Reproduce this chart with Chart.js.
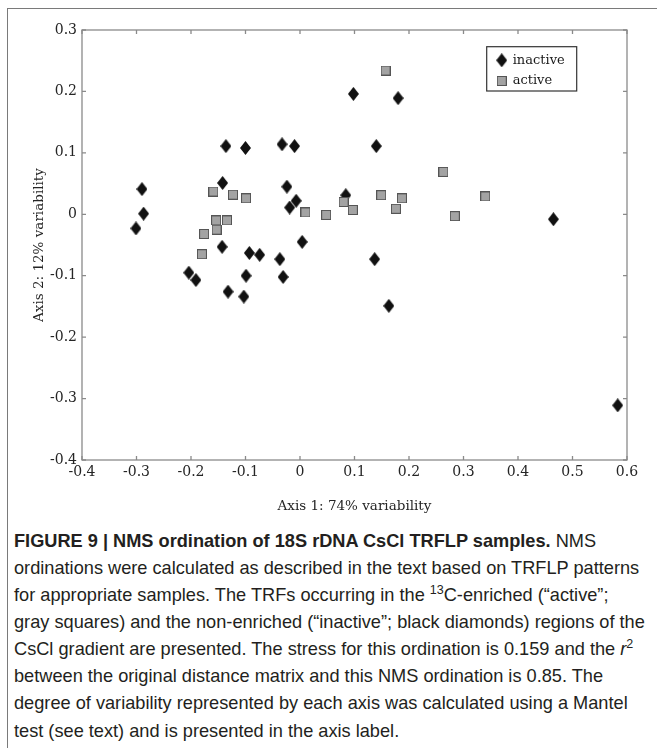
<!DOCTYPE html>
<html><head><meta charset="utf-8">
<script src="https://cdn.jsdelivr.net/npm/chart.js@4/dist/chart.umd.min.js"></script>
<style>
html,body{margin:0;padding:0;background:#fff;}
#fig{position:relative;width:657px;height:748px;overflow:hidden;}
#frame{position:absolute;left:7px;top:8px;width:700px;height:800px;border-top:1.5px solid #7a7a7a;border-left:1.5px solid #7a7a7a;}
#c{position:absolute;left:0;top:0;}
#cap{position:absolute;left:14px;top:527.5px;font-family:"Liberation Sans",Arial,sans-serif;font-size:18.2px;line-height:27.15px;color:#231f20;white-space:nowrap;}
#cap sup{font-size:12.5px;line-height:0;vertical-align:7px;}
</style></head>
<body>
<div id="fig">
<div id="frame"></div>
<canvas id="c" width="657" height="520"></canvas>
<div id="cap"><b>FIGURE 9 | NMS ordination of 18S rDNA CsCl TRFLP samples.</b> NMS<br>ordinations were calculated as described in the text based on TRFLP patterns<br>for appropriate samples. The TRFs occurring in the <sup>13</sup>C-enriched (“active”;<br>gray squares) and the non-enriched (“inactive”; black diamonds) regions of the<br>CsCl gradient are presented. The stress for this ordination is 0.159 and the <i>r</i><sup>2</sup><br>between the original distance matrix and this NMS ordination is 0.85. The<br>degree of variability represented by each axis was calculated using a Mantel<br>test (see text) and is presented in the axis label.</div>
</div>
<script>
const seriesNames = ['inactive', 'active'];
const inactiveX = [-0.290, -0.287, -0.301, -0.136, -0.100, -0.033, -0.010, -0.142, -0.024, -0.007, -0.019, 0.004, -0.143, -0.093, -0.074, -0.037, -0.204, -0.191, -0.099, -0.031, -0.132, -0.103, 0.098, 0.180, 0.140, 0.084, 0.465, 0.137, 0.163, 0.583];
const inactiveY = [0.041, 0.001, -0.023, 0.111, 0.108, 0.114, 0.111, 0.051, 0.045, 0.022, 0.011, -0.045, -0.053, -0.063, -0.066, -0.073, -0.095, -0.107, -0.100, -0.102, -0.126, -0.134, 0.196, 0.189, 0.111, 0.031, -0.008, -0.073, -0.149, -0.311];
const activeX = [-0.159, -0.123, -0.099, -0.154, -0.134, -0.153, -0.176, -0.180, 0.010, 0.048, 0.157, 0.263, 0.080, 0.097, 0.149, 0.187, 0.176, 0.284, 0.340];
const activeY = [0.037, 0.032, 0.026, -0.010, -0.010, -0.025, -0.032, -0.065, 0.003, -0.001, 0.234, 0.069, 0.020, 0.007, 0.031, 0.026, 0.009, -0.003, 0.029];
const xTickValues = [-0.4, -0.3, -0.2, -0.1, 0, 0.1, 0.2, 0.3, 0.4, 0.5, 0.6];
const xTickLabels = ['-0.4', '-0.3', '-0.2', '-0.1', '0', '0.1', '0.2', '0.3', '0.4', '0.5', '0.6'];
const yTickValues = [-0.4, -0.3, -0.2, -0.1, 0, 0.1, 0.2, 0.3];
const yTickLabels = ['-0.4', '-0.3', '-0.2', '-0.1', '0', '0.1', '0.2', '0.3'];
const xTitle = 'Axis 1: 74% variability';
const yTitle = 'Axis 2: 12% variability';

function makeDiamond() {
  const c = document.createElement('canvas'); c.width = 11; c.height = 14;
  const g = c.getContext('2d');
  g.fillStyle = '#111';
  g.beginPath(); g.moveTo(5.5, 0); g.lineTo(11, 7); g.lineTo(5.5, 14); g.lineTo(0, 7); g.closePath(); g.fill();
  return c;
}
function makeSquare() {
  const c = document.createElement('canvas'); c.width = 10; c.height = 10;
  const g = c.getContext('2d');
  g.fillStyle = '#a3a3a3'; g.fillRect(0.5, 0.5, 9, 9);
  g.strokeStyle = '#555'; g.lineWidth = 1; g.strokeRect(0.5, 0.5, 9, 9);
  return c;
}
const diamondImg = makeDiamond();
const squareImg = makeSquare();

const FONT = '"DejaVu Serif", serif';
const TXT = '#252525';

const framePlugin = {
  id: 'frameTicks',
  beforeDatasetsDraw(chart) {
    const { ctx, chartArea: a, scales } = chart;
    ctx.save();
    ctx.strokeStyle = '#8a8a8a'; ctx.lineWidth = 1.3;
    ctx.strokeRect(a.left, a.top, a.right - a.left, a.bottom - a.top);
    ctx.beginPath();
    xTickValues.forEach(v => {
      const p = scales.x.getPixelForValue(v);
      ctx.moveTo(p, a.bottom); ctx.lineTo(p, a.bottom - 4);
      ctx.moveTo(p, a.top); ctx.lineTo(p, a.top + 4);
    });
    yTickValues.forEach(v => {
      const p = scales.y.getPixelForValue(v);
      ctx.moveTo(a.left, p); ctx.lineTo(a.left + 4, p);
      ctx.moveTo(a.right, p); ctx.lineTo(a.right - 4, p);
    });
    ctx.stroke();
    ctx.restore();
  }
};

const legendPlugin = {
  id: 'boxLegend',
  afterDatasetsDraw(chart) {
    const { ctx, chartArea: a } = chart;
    const bx = a.right - 140.3, by = a.top + 16.7, bw = 90, bh = 44.3;
    ctx.save();
    ctx.fillStyle = '#fff'; ctx.fillRect(bx, by, bw, bh);
    ctx.strokeStyle = '#333'; ctx.lineWidth = 1.2; ctx.strokeRect(bx, by, bw, bh);
    const imgs = [diamondImg, squareImg];
    const rows = [by + 13.6, by + 34.3];
    ctx.font = '13px ' + FONT; ctx.fillStyle = '#1a1a1a'; ctx.textBaseline = 'middle'; ctx.textAlign = 'left';
    seriesNames.forEach((n, i) => {
      const im = imgs[i];
      ctx.drawImage(im, bx + 15 - im.width / 2, rows[i] - im.height / 2);
      ctx.fillText(n, bx + 26, rows[i]);
    });
    ctx.restore();
  }
};

new Chart(document.getElementById('c'), {
  type: 'scatter',
  data: {
    datasets: [
      { label: seriesNames[0], data: inactiveX.map((x, i) => ({ x, y: inactiveY[i] })), pointStyle: diamondImg, pointRadius: 6, order: 1 },
      { label: seriesNames[1], data: activeX.map((x, i) => ({ x, y: activeY[i] })), pointStyle: squareImg, pointRadius: 5, order: 0 }
    ]
  },
  options: {
    responsive: false, animation: false, devicePixelRatio: 1,
    layout: { padding: { left: 0, top: 30, right: 30, bottom: 0 } },
    plugins: { legend: { display: false }, tooltip: { enabled: false } },
    scales: {
      x: {
        type: 'linear', min: -0.4, max: 0.6,
        afterBuildTicks: s => { s.ticks = xTickValues.map(v => ({ value: v })); },
        afterFit: s => { s.height = 60; },
        grid: { display: false, drawTicks: false }, border: { display: false },
        ticks: { padding: 4, color: TXT, font: { family: FONT, size: 14 }, maxRotation: 0, autoSkip: false, callback: (v, i) => xTickLabels[i] },
        title: { display: true, text: xTitle, color: TXT, font: { family: FONT, size: 13.5 }, padding: { top: 0, bottom: 5 } }
      },
      y: {
        type: 'linear', min: -0.4, max: 0.3,
        afterBuildTicks: s => { s.ticks = yTickValues.map(v => ({ value: v })); },
        afterFit: s => { s.width = 82; },
        grid: { display: false, drawTicks: false }, border: { display: false },
        ticks: { padding: 5, color: TXT, font: { family: FONT, size: 14 }, autoSkip: false, callback: (v, i) => yTickLabels[i] },
        title: { display: true, text: yTitle, color: TXT, font: { family: FONT, size: 13.5 }, padding: { top: 31, bottom: 0 } }
      }
    }
  },
  plugins: [framePlugin, legendPlugin]
});
</script>
</body></html>
